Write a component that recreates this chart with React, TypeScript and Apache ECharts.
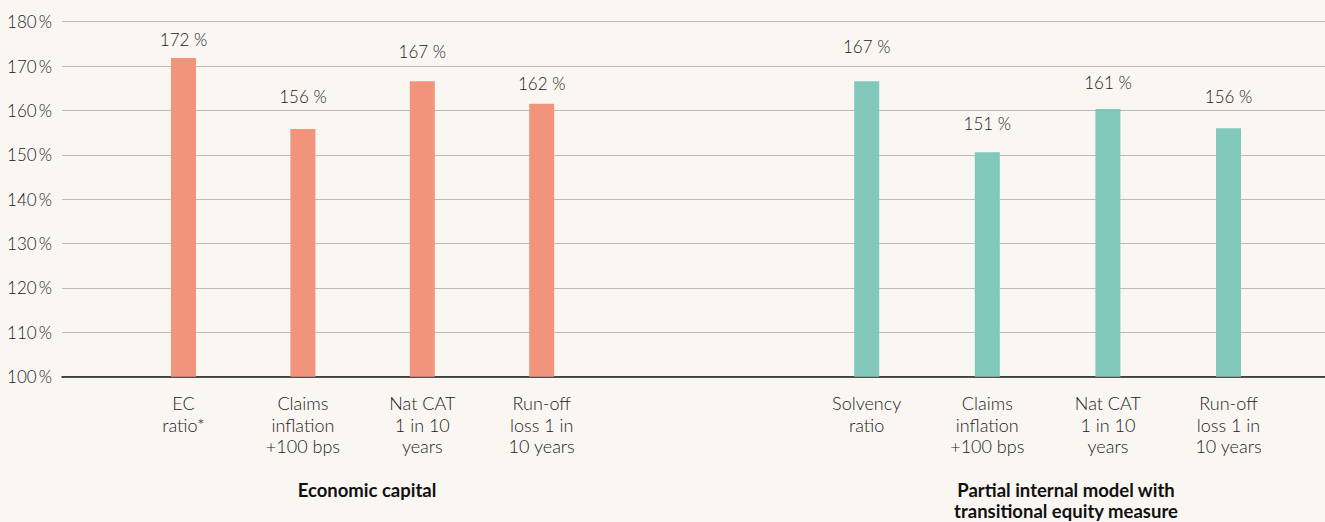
import React, { useEffect, useRef } from "react";
import * as echarts from "echarts";

const leftCategories = ["EC\nratio*", "Claims\ninflation\n+100 bps", "Nat CAT\n1 in 10\nyears", "Run-off\nloss 1 in\n10 years"];
const rightCategories = ["Solvency\nratio", "Claims\ninflation\n+100 bps", "Nat CAT\n1 in 10\nyears", "Run-off\nloss 1 in\n10 years"];
const leftValues = [171.8, 155.8, 166.6, 161.5];
const rightValues = [166.6, 150.6, 160.3, 156.0];
const leftLabels = ["172 %", "156 %", "167 %", "162 %"];
const rightLabels = ["167 %", "151 %", "161 %", "156 %"];
const groupTitles = ["Economic capital", "Partial internal model with\ntransitional equity measure"];
const yTicks = { min: 100, max: 180, interval: 10 };

// label distances above bars (style, px)
const leftLabelGap = [18, 32, 29, 20];
const rightLabelGap = [34, 28, 26, 31];

const FONT = "Lato";
const TEXT = "#222222";

export default function App() {
  const ref = useRef<HTMLDivElement>(null);
  useEffect(() => {
    document.body.style.margin = "0";
    const chart = echarts.init(ref.current!, null, { renderer: "svg" });
    const top = 21.7;
    const bottom = 145.3;
    const hiddenY = (gi: number) => ({
      gridIndex: gi,
      type: "value",
      min: yTicks.min,
      max: yTicks.max,
      interval: yTicks.interval,
      show: false,
      splitLine: { show: false },
    });
    const catAxis = (gi: number, data: string[]) => ({
      gridIndex: gi,
      type: "category",
      data,
      axisLine: { show: false },
      axisTick: { show: false },
      splitLine: { show: false },
      axisLabel: {
        interval: 0,
        margin: 16,
        lineHeight: 21.5,
        fontSize: 18,
        fontWeight: 300,
        color: TEXT,
        fontFamily: FONT,
      },
    });
    const makeData = (vals: number[], gaps: number[]) =>
      vals.map((v, i) => ({ value: v, label: { distance: gaps[i] - 8 } }));
    const valueLabel = (labels: string[]) => ({
      show: true,
      position: "top",
      fontSize: 17,
      fontWeight: 300,
      color: TEXT,
      fontFamily: FONT,
      formatter: (p: any) => labels[p.dataIndex],
    });
    chart.setOption({
      animation: false,
      backgroundColor: "#faf7f2",
      grid: [
        { left: 62, right: 0, top, bottom },
        { left: 123.8, width: 477.6, top, bottom },
        { left: 806.4, width: 482.4, top, bottom },
      ],
      xAxis: [
        {
          gridIndex: 0,
          type: "value",
          min: 0,
          max: 1,
          axisLine: { show: true, onZero: false, lineStyle: { color: "#1a1a1a", width: 1.5 } },
          axisTick: { show: false },
          axisLabel: { show: false },
          splitLine: { show: false },
        },
        catAxis(1, leftCategories),
        catAxis(2, rightCategories),
      ],
      yAxis: [
        {
          gridIndex: 0,
          type: "value",
          min: yTicks.min,
          max: yTicks.max,
          interval: yTicks.interval,
          axisLine: { show: false },
          axisTick: { show: false },
          axisLabel: {
            formatter: "{value}\u2009%",
            margin: 10,
            fontSize: 17,
            fontWeight: 300,
            color: TEXT,
            fontFamily: FONT,
          },
          splitLine: { lineStyle: { color: "#bdbbb8", width: 1 } },
        },
        hiddenY(1),
        hiddenY(2),
      ],
      series: [
        {
          type: "bar",
          xAxisIndex: 1,
          yAxisIndex: 1,
          barWidth: 25,
          itemStyle: { color: "#f2937b" },
          data: makeData(leftValues, leftLabelGap),
          label: valueLabel(leftLabels),
        },
        {
          type: "bar",
          xAxisIndex: 2,
          yAxisIndex: 2,
          barWidth: 25,
          itemStyle: { color: "#81c8bb" },
          data: makeData(rightValues, rightLabelGap),
          label: valueLabel(rightLabels),
        },
      ],
      graphic: [
        {
          type: "text",
          x: 367,
          y: 490,
          style: {
            text: groupTitles[0],
            align: "center",
            verticalAlign: "middle",
            fontSize: 18.5,
            fontWeight: "bold",
            fontFamily: FONT,
            fill: "#111111",
          },
        },
        {
          type: "text",
          x: 1066,
          y: 500.5,
          style: {
            text: groupTitles[1],
            align: "center",
            verticalAlign: "middle",
            lineHeight: 21,
            fontSize: 18.5,
            fontWeight: "bold",
            fontFamily: FONT,
            fill: "#111111",
          },
        },
      ],
    });
    return () => chart.dispose();
  }, []);
  return <div ref={ref} style={{ width: 1325, height: 522 }} />;
}
